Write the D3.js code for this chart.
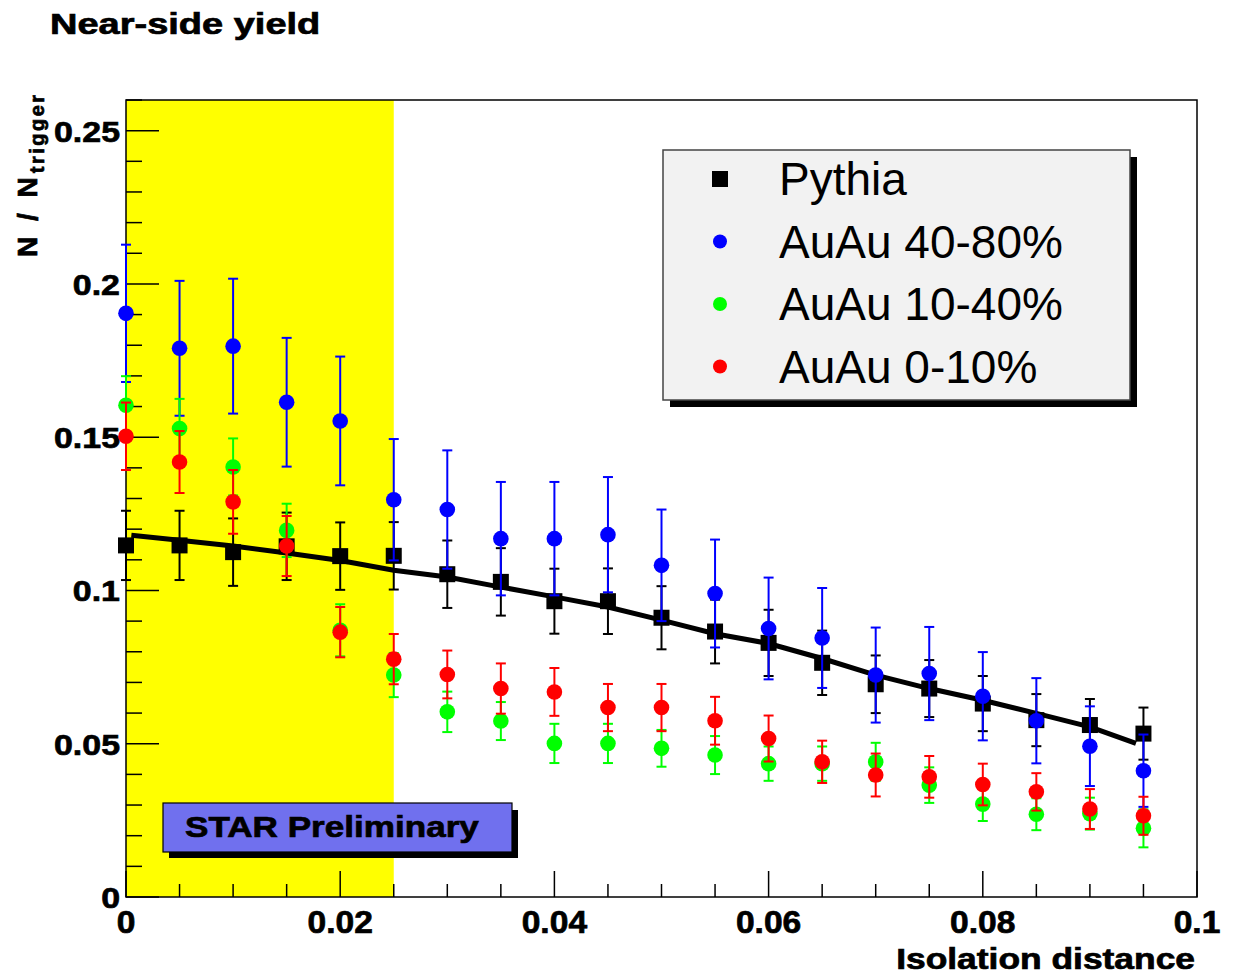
<!DOCTYPE html>
<html><head><meta charset="utf-8">
<script src="https://cdn.jsdelivr.net/npm/d3@7"></script>
<style>html,body{margin:0;padding:0;background:#fff;} svg{display:block;}</style>
</head><body>
<svg id="chart" width="1233" height="974"></svg>
<script>
// ---------- data ----------
const xVals = [0,0.005,0.01,0.015,0.02,0.025,0.03,0.035,0.04,0.045,0.05,0.055,0.06,0.065,0.07,0.075,0.08,0.085,0.09,0.095];
const pythia    = [0.1147,0.1147,0.1125,0.1144,0.1112,0.1113,0.1053,0.1028,0.0965,0.0965,0.0911,0.0866,0.0829,0.0764,0.0694,0.0680,0.0631,0.0577,0.0561,0.0533];
const pythiaErr = [0.0113,0.0113,0.0110,0.0110,0.0110,0.0110,0.0110,0.0110,0.0106,0.0107,0.0103,0.0104,0.0108,0.0105,0.0094,0.0093,0.0090,0.0085,0.0085,0.0085];
const auau4080    = [0.1904,0.1790,0.1797,0.1614,0.1553,0.1296,0.1264,0.1169,0.1169,0.1182,0.1082,0.0990,0.0876,0.0845,0.0724,0.0729,0.0655,0.0575,0.0492,0.0412];
const auau4080Err = [0.0224,0.0220,0.0220,0.0210,0.0210,0.0198,0.0193,0.0185,0.0185,0.0188,0.0182,0.0176,0.0166,0.0163,0.0155,0.0152,0.0144,0.0139,0.0130,0.0118];
const auau1040    = [0.1604,0.1528,0.1403,0.1196,0.0870,0.0724,0.0604,0.0574,0.0501,0.0501,0.0485,0.0463,0.0435,0.0435,0.0441,0.0365,0.0303,0.0270,0.0272,0.0224];
const auau1040Err = [0.0095,0.0097,0.0093,0.0087,0.0085,0.0072,0.0066,0.0062,0.0064,0.0064,0.0060,0.0062,0.0056,0.0056,0.0062,0.0058,0.0055,0.0052,0.0052,0.0062];
const auau0010    = [0.1503,0.1419,0.1289,0.1145,0.0864,0.0776,0.0726,0.0680,0.0669,0.0618,0.0618,0.0575,0.0517,0.0441,0.0398,0.0392,0.0367,0.0343,0.0287,0.0265];
const auau0010Err = [0.0110,0.0101,0.0104,0.0098,0.0082,0.0082,0.0078,0.0082,0.0078,0.0077,0.0077,0.0078,0.0075,0.0069,0.0070,0.0068,0.0068,0.0061,0.0065,0.0062];
// Pythia smooth curve
const curveX = [0.0005,0.005,0.01,0.015,0.02,0.025,0.03,0.035,0.04,0.045,0.05,0.055,0.06,0.065,0.07,0.075,0.08,0.085,0.09,0.0943];
const curveY = [0.1180,0.1164,0.1145,0.1122,0.1098,0.1066,0.1044,0.1011,0.0979,0.0946,0.0903,0.0859,0.0827,0.0778,0.0724,0.0680,0.0642,0.0599,0.0555,0.0501];
const shadedRange = [0, 0.025];
const xTickLabels = ["0","0.02","0.04","0.06","0.08","0.1"];
const yTickLabels = ["0","0.05","0.1","0.15","0.2","0.25"];
const legendLabels = ["Pythia","AuAu 40-80%","AuAu 10-40%","AuAu 0-10%"];
const titleText = "Near-side yield";
const xTitle = "Isolation distance";
const starLabel = "STAR Preliminary";

// ---------- layout ----------
const L = 126, R = 1197, T = 100, B = 897;
const svg = d3.select("#chart");
const x = d3.scaleLinear().domain([0, 0.1]).range([L, R]);
const y = d3.scaleLinear().domain([0, 0.26]).range([B, T]);
const FONT = "'Liberation Sans', Arial, Helvetica, sans-serif";

function stretch(sel, f) {
  sel.each(function () {
    const w = this.getComputedTextLength();
    d3.select(this).attr("textLength", w * f).attr("lengthAdjust", "spacingAndGlyphs");
  });
}
function heavy(sel) { sel.attr("stroke", "#000").attr("stroke-width", 0.7); }

// shaded region
svg.append("rect").attr("x", x(shadedRange[0])).attr("y", T)
  .attr("width", x(shadedRange[1]) - x(shadedRange[0])).attr("height", B - T)
  .attr("fill", "#ffff00");

// frame
svg.append("rect").attr("x", L).attr("y", T).attr("width", R - L).attr("height", B - T)
  .attr("fill", "none").attr("stroke", "#000").attr("stroke-width", 1.5);

// y ticks
const yMinor = d3.range(0, 0.2601, 0.01);
svg.append("g").selectAll("line").data(yMinor).join("line")
  .attr("x1", L).attr("x2", (d, i) => L + (i % 5 === 0 ? 33 : 16))
  .attr("y1", d => y(d)).attr("y2", d => y(d))
  .attr("stroke", "#000").attr("stroke-width", 1.5);
// x ticks
const xMinor = d3.range(0, 0.1001, 0.005);
svg.append("g").selectAll("line").data(xMinor).join("line")
  .attr("x1", d => x(d)).attr("x2", d => x(d))
  .attr("y1", B).attr("y2", (d, i) => B - (i % 4 === 0 ? 26 : 13))
  .attr("stroke", "#000").attr("stroke-width", 1.5);

// tick labels
const yt = svg.append("g").selectAll("text").data(yTickLabels).join("text")
  .attr("x", 120).attr("y", (d, i) => y(i * 0.05) + 11)
  .attr("text-anchor", "end").attr("font-family", FONT).attr("font-weight", "bold")
  .attr("font-size", 30).text(d => d);
stretch(yt, 1.13); heavy(yt);
const xt = svg.append("g").selectAll("text").data(xTickLabels).join("text")
  .attr("x", (d, i) => x(i * 0.02)).attr("y", 933)
  .attr("text-anchor", "middle").attr("font-family", FONT).attr("font-weight", "bold")
  .attr("font-size", 32).text(d => d);
stretch(xt, 1.05); heavy(xt);

// titles
const tt = svg.append("text").attr("x", 50).attr("y", 34).attr("font-family", FONT)
  .attr("font-weight", "bold").attr("font-size", 29).text(titleText);
stretch(tt, 1.31); heavy(tt);
const xtt = svg.append("text").attr("x", 1195).attr("y", 969).attr("text-anchor", "end")
  .attr("font-family", FONT).attr("font-weight", "bold").attr("font-size", 29).text(xTitle);
stretch(xtt, 1.22); heavy(xtt);
const yl = svg.append("text").attr("transform", "translate(37,257) rotate(-90)")
  .attr("font-family", FONT).attr("font-weight", "bold").attr("font-size", 28);
yl.append("tspan").attr("letter-spacing", 4).text("N / N");
yl.append("tspan").attr("dy", 7).attr("font-size", 20).attr("letter-spacing", 2.5).text("trigger");
heavy(yl);

// Pythia curve
svg.append("path").datum(curveX.map((d, i) => [d, curveY[i]]))
  .attr("d", d3.line().x(d => x(d[0])).y(d => y(d[1])))
  .attr("fill", "none").attr("stroke", "#000").attr("stroke-width", 5);

// series
const series = [
  {v: pythia, e: pythiaErr, c: "#000000", m: "square"},
  {v: auau4080, e: auau4080Err, c: "#0000ff", m: "circle"},
  {v: auau1040, e: auau1040Err, c: "#00ff00", m: "circle"},
  {v: auau0010, e: auau0010Err, c: "#ff0000", m: "circle"}
];
series.forEach(s => {
  const g = svg.append("g");
  const pts = xVals.map((xv, i) => ({x: xv, v: s.v[i], e: s.e[i]}));
  g.selectAll("line.eb").data(pts).join("line").attr("class", "eb")
    .attr("x1", d => x(d.x)).attr("x2", d => x(d.x))
    .attr("y1", d => y(d.v + d.e)).attr("y2", d => y(d.v - d.e))
    .attr("stroke", s.c).attr("stroke-width", 2);
  [1, -1].forEach(sg => {
    g.selectAll("line.cap" + sg).data(pts).join("line")
      .attr("x1", d => x(d.x) - 5).attr("x2", d => x(d.x) + 5)
      .attr("y1", d => y(d.v + sg * d.e)).attr("y2", d => y(d.v + sg * d.e))
      .attr("stroke", s.c).attr("stroke-width", 2);
  });
  if (s.m === "square") {
    g.selectAll("rect").data(pts).join("rect")
      .attr("x", d => x(d.x) - 8).attr("y", d => y(d.v) - 8)
      .attr("width", 16).attr("height", 16).attr("fill", s.c);
  } else {
    g.selectAll("circle").data(pts).join("circle")
      .attr("cx", d => x(d.x)).attr("cy", d => y(d.v)).attr("r", 7.8).attr("fill", s.c);
  }
});

// legend
const lg = svg.append("g");
lg.append("rect").attr("x", 670).attr("y", 157).attr("width", 467).attr("height", 250).attr("fill", "#000");
lg.append("rect").attr("x", 663).attr("y", 150).attr("width", 467).attr("height", 250)
  .attr("fill", "#f2f2f2").attr("stroke", "#444").attr("stroke-width", 1.5);
legendLabels.forEach((lab, i) => {
  const cy = 179 + i * 62.5;
  const s = series[i];
  if (s.m === "square") {
    lg.append("rect").attr("x", 712).attr("y", cy - 8).attr("width", 16).attr("height", 16).attr("fill", s.c);
  } else {
    lg.append("circle").attr("cx", 720).attr("cy", cy).attr("r", 7).attr("fill", s.c);
  }
  lg.append("text").attr("x", 779).attr("y", cy + 16).attr("font-family", FONT)
    .attr("font-size", 46).attr("fill", "#000").text(lab);
});

// STAR Preliminary box
const sb = svg.append("g");
sb.append("rect").attr("x", 169).attr("y", 810).attr("width", 349).attr("height", 48).attr("fill", "#000");
sb.append("rect").attr("x", 163).attr("y", 803).attr("width", 349).attr("height", 49)
  .attr("fill", "#7070ee").attr("stroke", "#000").attr("stroke-width", 1.2);
const st = sb.append("text").attr("x", 185).attr("y", 837).attr("font-family", FONT)
  .attr("font-weight", "bold").attr("font-size", 30).text(starLabel);
stretch(st, 1.17); heavy(st);
</script>
</body></html>
